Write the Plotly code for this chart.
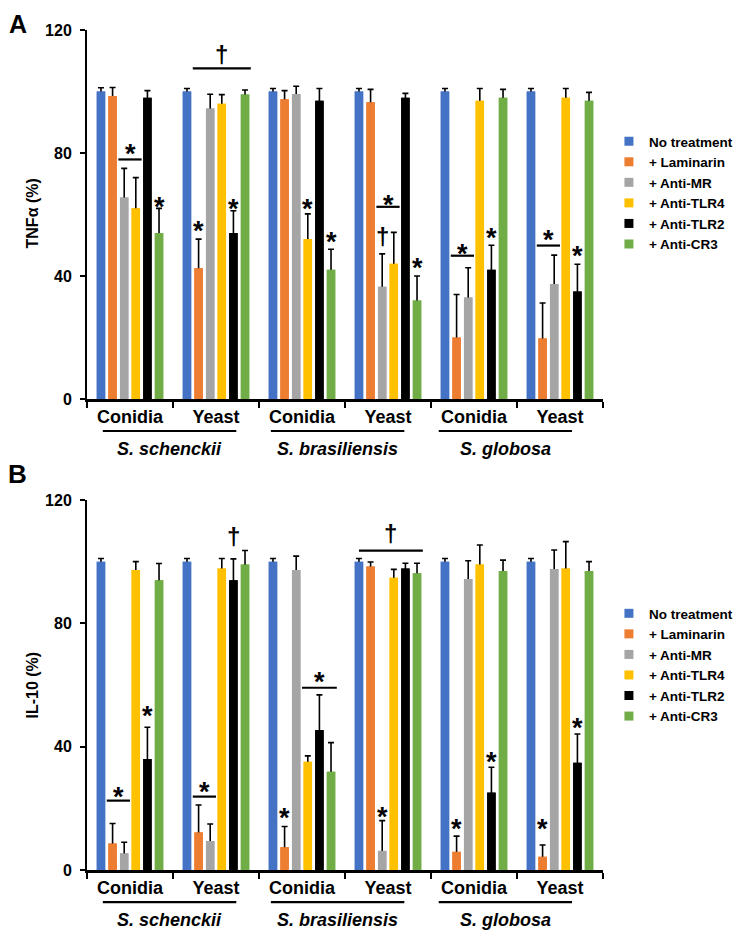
import plotly.graph_objects as go

FONT = "Liberation Sans, Arial, sans-serif"

# ---------------- data ----------------
categories = ["S. schenckii Conidia", "S. schenckii Yeast", "S. brasiliensis Conidia",
              "S. brasiliensis Yeast", "S. globosa Conidia", "S. globosa Yeast"]
form_labels = ["Conidia", "Yeast", "Conidia", "Yeast", "Conidia", "Yeast"]
species_labels = ["S. schenckii", "S. brasiliensis", "S. globosa"]
series_names = ["No treatment", "+ Laminarin", "+ Anti-MR", "+ Anti-TLR4", "+ Anti-TLR2", "+ Anti-CR3"]
series_colors = ["#4472C4", "#ED7D31", "#A5A5A5", "#FFC000", "#000000", "#70AD47"]

# Panel A: TNF-alpha (%)
tnf_no_treatment = [100, 100, 100, 100, 100, 100]
tnf_laminarin = [98.5, 42.5, 97.5, 96.5, 20, 19.7]
tnf_anti_mr = [65.5, 94.5, 99.2, 36.5, 33, 37.4]
tnf_anti_tlr4 = [62, 96, 52, 44, 97, 98]
tnf_anti_tlr2 = [98, 54, 97, 98, 42, 35]
tnf_anti_cr3 = [54, 99, 42, 32, 98, 97]
tnf_no_treatment_err = [1.2, 1, 1, 1, 1, 1]
tnf_laminarin_err = [2.8, 9.5, 2.8, 4.2, 14, 11.5]
tnf_anti_mr_err = [9.5, 4.6, 2.5, 10.7, 9.7, 9.4]
tnf_anti_tlr4_err = [10, 3, 8.2, 10.2, 4, 3]
tnf_anti_tlr2_err = [2.3, 7.2, 4, 1.4, 8, 8.8]
tnf_anti_cr3_err = [8, 1.5, 6.7, 8, 2.7, 2.7]

# Panel B: IL-10 (%)
il10_no_treatment = [100, 100, 100, 100, 100, 100]
il10_laminarin = [8.6, 12.2, 7.4, 98.4, 5.9, 4.3]
il10_anti_mr = [5.4, 9.4, 97.3, 6.2, 94.4, 97.6]
il10_anti_tlr4 = [97.3, 97.8, 35.1, 94.8, 99.1, 97.8]
il10_anti_tlr2 = [36, 94, 45.4, 97.8, 25.1, 34.8]
il10_anti_cr3 = [94, 99.1, 31.9, 96.2, 97, 97]
il10_no_treatment_err = [1, 1, 1, 1, 1, 1]
il10_laminarin_err = [6.5, 8.9, 6.7, 1.5, 5.1, 3.8]
il10_anti_mr_err = [3.6, 5.5, 4.5, 9.8, 5.9, 6.2]
il10_anti_tlr4_err = [2.7, 3.2, 1.9, 2.7, 6.3, 8.7]
il10_anti_tlr2_err = [10.3, 6.9, 11.4, 1.7, 8.2, 9.3]
il10_anti_cr3_err = [5.4, 4.5, 9.4, 3.3, 3.5, 3]

# significance marks: (group, series, y, symbol)
tnf_single_marks = [(0, 5, 64.7, "*"), (1, 1, 56.9, "*"), (1, 4, 64.2, "*"), (2, 3, 64.2, "*"),
                    (2, 5, 53.3, "*"), (3, 5, 44.9, "*"), (4, 4, 54.7, "*"), (5, 4, 48.7, "*"),
                    (3, 2, 52.8, "†")]
# (group, first series, last series, line y, symbol, symbol y)
tnf_bracket_marks = [(0, 2, 3, 77.9, "*", 82), (1, 1, 5, 107.5, "†", 111.9),
                     (3, 2, 3, 62.5, "*", 65.3), (4, 1, 2, 46.6, "*", 49.5),
                     (5, 1, 2, 49.9, "*", 53.9)]
il10_single_marks = [(0, 4, 52.1, "*"), (2, 1, 19.2, "*"), (3, 2, 19.5, "*"), (4, 1, 15.7, "*"),
                     (4, 4, 37.3, "*"), (5, 1, 15.7, "*"), (5, 4, 48.3, "*"), (1, 4, 108.3, "†")]
il10_bracket_marks = [(0, 1, 2, 22.5, "*", 25.9), (1, 1, 2, 23.8, "*", 27.6),
                      (2, 3, 5, 59.1, "*", 63.2), (3, 0.5, 5, 103.6, "†", 109)]

tnf_values = [tnf_no_treatment, tnf_laminarin, tnf_anti_mr, tnf_anti_tlr4, tnf_anti_tlr2, tnf_anti_cr3]
tnf_errors = [tnf_no_treatment_err, tnf_laminarin_err, tnf_anti_mr_err, tnf_anti_tlr4_err,
              tnf_anti_tlr2_err, tnf_anti_cr3_err]
il10_values = [il10_no_treatment, il10_laminarin, il10_anti_mr, il10_anti_tlr4, il10_anti_tlr2, il10_anti_cr3]
il10_errors = [il10_no_treatment_err, il10_laminarin_err, il10_anti_mr_err, il10_anti_tlr4_err,
               il10_anti_tlr2_err, il10_anti_cr3_err]

BARGAP = 0.19
BARGROUPGAP = 0.27
SLOT = (1 - BARGAP) / 6

fig = go.Figure()

panels = [
    ("x", "y", "y3", tnf_values, tnf_errors, "legend"),
    ("x2", "y2", "y4", il10_values, il10_errors, "legend2"),
]
for xa, ya, ya_over, vals, errs, leg in panels:
    # bars with error bars (lower half hidden by overlay bars)
    for name, color, v, e in zip(series_names, series_colors, vals, errs):
        fig.add_trace(go.Bar(x=categories, y=v, marker=dict(color=color, line=dict(width=0)),
                             error_y=dict(type="data", array=e, symmetric=True, color="black",
                                          thickness=1.6, width=3),
                             xaxis=xa, yaxis=ya, showlegend=False, name=name))
    # overlay bars covering lower error bar halves
    for name, color, v in zip(series_names, series_colors, vals):
        fig.add_trace(go.Bar(x=categories, y=v, marker=dict(color=color, line=dict(width=0)),
                             xaxis=xa, yaxis=ya_over, showlegend=False, name=name))
    # legend entries
    for name, color in zip(series_names, series_colors):
        fig.add_trace(go.Scatter(x=[None], y=[None], mode="markers", name=name,
                                 marker=dict(symbol="square", size=9, color=color),
                                 xaxis=xa, yaxis=ya, legend=leg, showlegend=True))


def slot_x(g, s):
    return g + (s - 2.5) * SLOT


annotations = []
shapes = []
for xa, ya, singles, brackets in [("x", "y", tnf_single_marks, tnf_bracket_marks),
                                  ("x2", "y2", il10_single_marks, il10_bracket_marks)]:
    for g, s, yv, sym in singles:
        annotations.append(dict(x=slot_x(g, s), y=yv, xref=xa, yref=ya, text=sym, showarrow=False,
                                xanchor="center", yanchor="middle",
                                yshift=-7 if sym == "*" else 0,
                                font=dict(family=FONT, size=27 if sym == "*" else 24, weight=700, color="black")))
    for g, s0, s1, ly, sym, sy in brackets:
        x0 = slot_x(g, s0) - SLOT / 2
        x1 = slot_x(g, s1) + SLOT / 2
        shapes.append(dict(type="line", xref=xa, yref=ya, x0=x0, x1=x1, y0=ly, y1=ly,
                           line=dict(color="black", width=2.2)))
        annotations.append(dict(x=(x0 + x1) / 2, y=sy, xref=xa, yref=ya, text=sym, showarrow=False,
                                xanchor="center", yanchor="middle",
                                yshift=-7 if sym == "*" else 0,
                                font=dict(family=FONT, size=27 if sym == "*" else 24, weight=700, color="black")))

    # species lines and labels
    sp_starts = [-0.316, 1.638, 3.59]
    sp_ends = [1.236, 3.19, 5.14]
    for sp, x0, x1 in zip(species_labels, sp_starts, sp_ends):
        shapes.append(dict(type="line", xref=xa, yref=ya + " domain", x0=x0, x1=x1, y0=-0.0867, y1=-0.0867,
                           line=dict(color="black", width=2.2)))
        annotations.append(dict(x=(x0 + x1) / 2, y=-0.1355, xref=xa, yref=ya + " domain",
                                text="<i>" + sp + "</i>", showarrow=False,
                                xanchor="center", yanchor="middle",
                                font=dict(family=FONT, size=18, weight=700, color="black")))

# panel letters and y titles
annotations += [
    dict(x=-0.133, y=1.0262, xref="paper", yref="paper", text="A", showarrow=False,
         xanchor="center", yanchor="top", font=dict(family=FONT, size=25, weight=700, color="black")),
    dict(x=-0.135, y=0.4714, xref="paper", yref="paper", text="B", showarrow=False,
         xanchor="center", yanchor="middle", font=dict(family=FONT, size=26, weight=700, color="black")),
    dict(x=-0.1056, y=0.781, xref="paper", yref="paper", text="TNFα (%)", showarrow=False, textangle=-90,
         xanchor="center", yanchor="middle", font=dict(family=FONT, size=16, weight=700, color="black")),
    dict(x=-0.1056, y=0.2202, xref="paper", yref="paper", text="IL-10 (%)", showarrow=False, textangle=-90,
         xanchor="center", yanchor="middle", font=dict(family=FONT, size=16, weight=700, color="black")),
]

xaxis_common = dict(type="category", categoryorder="array", categoryarray=categories,
                    tickvals=categories, ticktext=form_labels, tickson="boundaries",
                    ticks="outside", ticklen=6, tickwidth=2, tickcolor="black",
                    showline=True, linewidth=2.5, linecolor="black", showgrid=False, zeroline=False,
                    range=[-0.5, 5.5], domain=[0, 1],
                    tickfont=dict(family=FONT, size=18, weight=700, color="black"))
yaxis_common = dict(range=[0, 120], tickvals=[0, 40, 80, 120], ticks="outside", ticklen=5, tickwidth=2,
                    tickcolor="black", showline=True, linewidth=2, linecolor="black",
                    showgrid=False, zeroline=False, ticklabelstandoff=5,
                    tickfont=dict(family=FONT, size=16, weight=700, color="black"))
over_common = dict(range=[0, 120], visible=False, showgrid=False, zeroline=False)

legend_common = dict(xanchor="left", yanchor="middle", bgcolor="rgba(0,0,0,0)", itemwidth=30,
                     font=dict(family=FONT, size=13.5, weight=700, color="black"), tracegroupgap=0)

# the page body adds an 8px offset, so the figure is sized to fit the 750x933 window
fig.update_layout(
    width=742, height=925, autosize=False,
    margin=dict(l=79, r=142, t=22, b=63),
    paper_bgcolor="white", plot_bgcolor="rgba(0,0,0,0)",
    barmode="group", bargap=BARGAP, bargroupgap=BARGROUPGAP,
    xaxis=dict(anchor="y", **xaxis_common),
    xaxis2=dict(anchor="y2", **xaxis_common),
    yaxis=dict(anchor="x", domain=[0.5607, 1.0], **yaxis_common),
    yaxis2=dict(anchor="x2", domain=[0.0, 0.4405], **yaxis_common),
    yaxis3=dict(anchor="x", overlaying="y", **over_common),
    yaxis4=dict(anchor="x2", overlaying="y2", **over_common),
    legend=dict(x=1.0115, y=0.806, **legend_common),
    legend2=dict(x=1.0115, y=0.244, **legend_common),
    annotations=annotations,
    shapes=shapes,
    font=dict(family=FONT, color="black"),
)

fig.write_html("out.html")
